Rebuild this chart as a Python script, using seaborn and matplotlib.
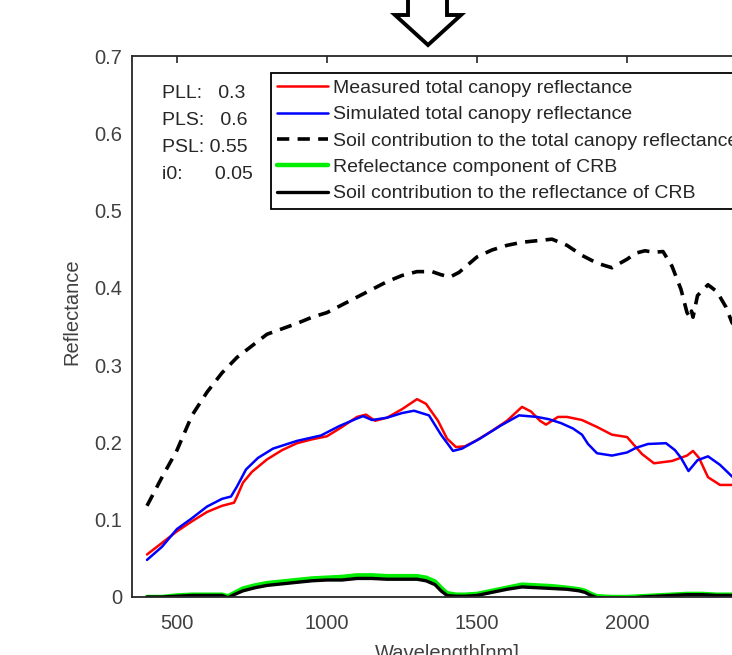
import numpy as np
import pandas as pd
import matplotlib
matplotlib.use("Agg")
import matplotlib.pyplot as plt
from matplotlib.patches import Polygon
import seaborn as sns

# ---------------- data ----------------
measured_wl = [400, 450, 500, 550, 600, 650, 690, 700, 720, 750, 800, 850, 900, 950, 1000,
               1050, 1100, 1130, 1160, 1200, 1250, 1300, 1330, 1370, 1400, 1430, 1460, 1500,
               1550, 1600, 1650, 1680, 1710, 1730, 1770, 1800, 1850, 1900, 1950, 2000, 2050,
               2090, 2150, 2200, 2220, 2240, 2270, 2310, 2350, 2400, 2450, 2500]
measured_refl = [0.055, 0.070, 0.085, 0.098, 0.110, 0.118, 0.122, 0.130, 0.148, 0.162, 0.178,
                 0.190, 0.199, 0.204, 0.208, 0.220, 0.233, 0.236, 0.228, 0.232, 0.243, 0.256,
                 0.250, 0.228, 0.205, 0.194, 0.195, 0.203, 0.215, 0.228, 0.246, 0.240, 0.228,
                 0.223, 0.233, 0.233, 0.229, 0.220, 0.210, 0.207, 0.185, 0.173, 0.176, 0.183,
                 0.189, 0.180, 0.155, 0.145, 0.145, 0.140, 0.130, 0.120]

simulated_wl = [400, 450, 500, 550, 600, 650, 680, 700, 730, 770, 820, 900, 980, 1040, 1100,
                1120, 1150, 1200, 1250, 1290, 1340, 1380, 1420, 1450, 1510, 1580, 1640, 1700,
                1740, 1780, 1820, 1850, 1870, 1900, 1950, 2000, 2030, 2070, 2130, 2160, 2180,
                2205, 2235, 2270, 2310, 2350, 2400, 2450, 2500]
simulated_refl = [0.048, 0.065, 0.088, 0.102, 0.117, 0.127, 0.130, 0.143, 0.165, 0.180, 0.192,
                  0.202, 0.209, 0.221, 0.231, 0.234, 0.229, 0.232, 0.238, 0.241, 0.235, 0.210,
                  0.189, 0.192, 0.205, 0.222, 0.235, 0.233, 0.230, 0.225, 0.218, 0.210, 0.198,
                  0.186, 0.183, 0.187, 0.193, 0.198, 0.199, 0.190, 0.180, 0.163, 0.177, 0.182,
                  0.171, 0.156, 0.140, 0.130, 0.120]

soil_wl = [400, 450, 500, 550, 600, 650, 700, 750, 800, 850, 900, 950, 1000, 1050, 1100, 1150,
           1200, 1250, 1300, 1350, 1380, 1410, 1440, 1470, 1500, 1550, 1600, 1650, 1700, 1750,
           1800, 1850, 1900, 1950, 2000, 2030, 2060, 2090, 2120, 2150, 2180, 2200, 2210, 2215,
           2220, 2235, 2270, 2300, 2330, 2350, 2400, 2450, 2500]
soil_refl = [0.118, 0.155, 0.190, 0.235, 0.265, 0.290, 0.310, 0.325, 0.340, 0.347, 0.354,
             0.362, 0.368, 0.378, 0.388, 0.398, 0.408, 0.416, 0.421, 0.421, 0.417, 0.414,
             0.420, 0.430, 0.440, 0.449, 0.455, 0.459, 0.461, 0.463, 0.455, 0.442, 0.432,
             0.426, 0.437, 0.445, 0.448, 0.446, 0.447, 0.428, 0.398, 0.368, 0.362, 0.370,
             0.362, 0.390, 0.404, 0.395, 0.375, 0.355, 0.330, 0.300, 0.280]

crb_wl = [400, 450, 500, 550, 600, 650, 670, 690, 720, 760, 800, 850, 900, 950, 1000, 1050,
          1100, 1150, 1200, 1250, 1300, 1330, 1360, 1380, 1400, 1430, 1460, 1500, 1550, 1600,
          1650, 1700, 1750, 1800, 1840, 1860, 1880, 1900, 1950, 2000, 2050, 2100, 2150, 2200,
          2250, 2300, 2350, 2400, 2450, 2500]
crb_refl = [0.000, 0.000, 0.002, 0.003, 0.003, 0.003, 0.001, 0.005, 0.011, 0.015, 0.018,
            0.020, 0.022, 0.024, 0.025, 0.026, 0.028, 0.028, 0.027, 0.027, 0.027, 0.025,
            0.020, 0.012, 0.005, 0.003, 0.003, 0.004, 0.008, 0.012, 0.016, 0.015, 0.014,
            0.012, 0.010, 0.008, 0.004, 0.001, 0.000, 0.000, 0.001, 0.002, 0.003, 0.004,
            0.004, 0.003, 0.003, 0.002, 0.002, 0.002]
crb_soil = [0.000, 0.000, 0.001, 0.002, 0.002, 0.002, -0.001, 0.003, 0.008, 0.012, 0.015,
            0.017, 0.019, 0.021, 0.022, 0.022, 0.024, 0.024, 0.023, 0.023, 0.023, 0.021,
            0.016, 0.008, 0.002, 0.001, 0.001, 0.002, 0.006, 0.010, 0.013, 0.012, 0.011,
            0.010, 0.008, 0.006, 0.002, -0.001, -0.002, -0.002, 0.000, 0.001, 0.002, 0.003,
            0.003, 0.002, 0.002, 0.001, 0.001, 0.001]

labels = ["Measured total canopy reflectance",
          "Simulated total canopy reflectance",
          "Soil contribution to the total canopy reflectance",
          "Refelectance component of CRB",
          "Soil contribution to the reflectance of CRB"]
param_text = "PLL:   0.3\nPLS:   0.6\nPSL: 0.55\ni0:      0.05"
y_ticks = [0, 0.1, 0.2, 0.3, 0.4, 0.5, 0.6, 0.7]
y_ticklabels = ["0", "0.1", "0.2", "0.3", "0.4", "0.5", "0.6", "0.7"]
x_ticks = [500, 1000, 1500, 2000]

# ---------------- style ----------------
sns.set_style("white")
plt.rcParams["font.family"] = ["Liberation Sans", "DejaVu Sans"]
TXT = "#262626"
LBL = "#404040"

W, H = 732, 655
fig = plt.figure(figsize=(W / 100, H / 100), dpi=100)
ax_left, ax_right_px = 132, 132 + 2100 * 0.3
ax_w_px = ax_right_px - ax_left
ax = fig.add_axes([ax_left / W, (H - 597) / H, ax_w_px / W, (597 - 56) / H])

sns.lineplot(x=measured_wl, y=measured_refl, ax=ax, color="#ff0000", lw=1.8, label=labels[0])
sns.lineplot(x=simulated_wl, y=simulated_refl, ax=ax, color="#0000ff", lw=1.8, label=labels[1])
sns.lineplot(x=soil_wl, y=soil_refl, ax=ax, color="black", lw=2.6, label=labels[2])
ax.lines[-1].set_dashes([3.4, 2.3])
sns.lineplot(x=crb_wl, y=crb_refl, ax=ax, color="#00ee00", lw=3.2, label=labels[3])
sns.lineplot(x=crb_wl, y=crb_soil, ax=ax, color="black", lw=2.4, label=labels[4])

ax.set_xlim(350, 2450)
ax.set_ylim(0, 0.7)
ax.set_yticks(y_ticks)
ax.set_yticklabels(y_ticklabels)
ax.set_xticks(x_ticks)
for s in ax.spines.values():
    s.set_color(TXT)
    s.set_linewidth(1.3)
ax.tick_params(direction="in", length=5, width=1.2, colors=TXT, labelsize=14.5,
               top=True, right=True)
ax.tick_params(axis="y", pad=7)
ax.tick_params(axis="x", pad=12)
for t in ax.get_xticklabels() + ax.get_yticklabels():
    t.set_color(LBL)

ax.set_xlabel("Wavelength[nm]", fontsize=14.5, color=LBL, labelpad=8)
ax.set_ylabel("Reflectance", fontsize=14.5, color=LBL)
ax.yaxis.set_label_coords((81 - 132) / ax_w_px, (597 - 312) / 541)

leg = ax.legend(loc="upper left", bbox_to_anchor=((271 - 132) / ax_w_px, (597 - 73) / 541),
                fontsize=14, frameon=True, fancybox=False, framealpha=1,
                edgecolor="black", handlelength=2.6, handletextpad=0.25,
                labelspacing=0.45, borderpad=0.33, borderaxespad=0)
leg.get_frame().set_linewidth(1.3)
for t in leg.get_texts():
    t.set_color(TXT)

ax.text((162 - 132) / ax_w_px, (597 - 85) / 541, param_text, transform=ax.transAxes,
        fontsize=14, color=TXT, va="top", ha="left", linespacing=1.76)

# hollow down arrow above the axes
arrow_px = [(408, -5), (408, 15), (395, 15), (428, 45), (461, 15), (447, 15), (447, -5)]
arrow = Polygon([(x / W, 1 - y / H) for x, y in arrow_px], closed=True,
                transform=fig.transFigure, facecolor="white", edgecolor="black",
                linewidth=2.8, joinstyle="miter", clip_on=False)
fig.patches.append(arrow)

fig.savefig("out.png", dpi=100)
